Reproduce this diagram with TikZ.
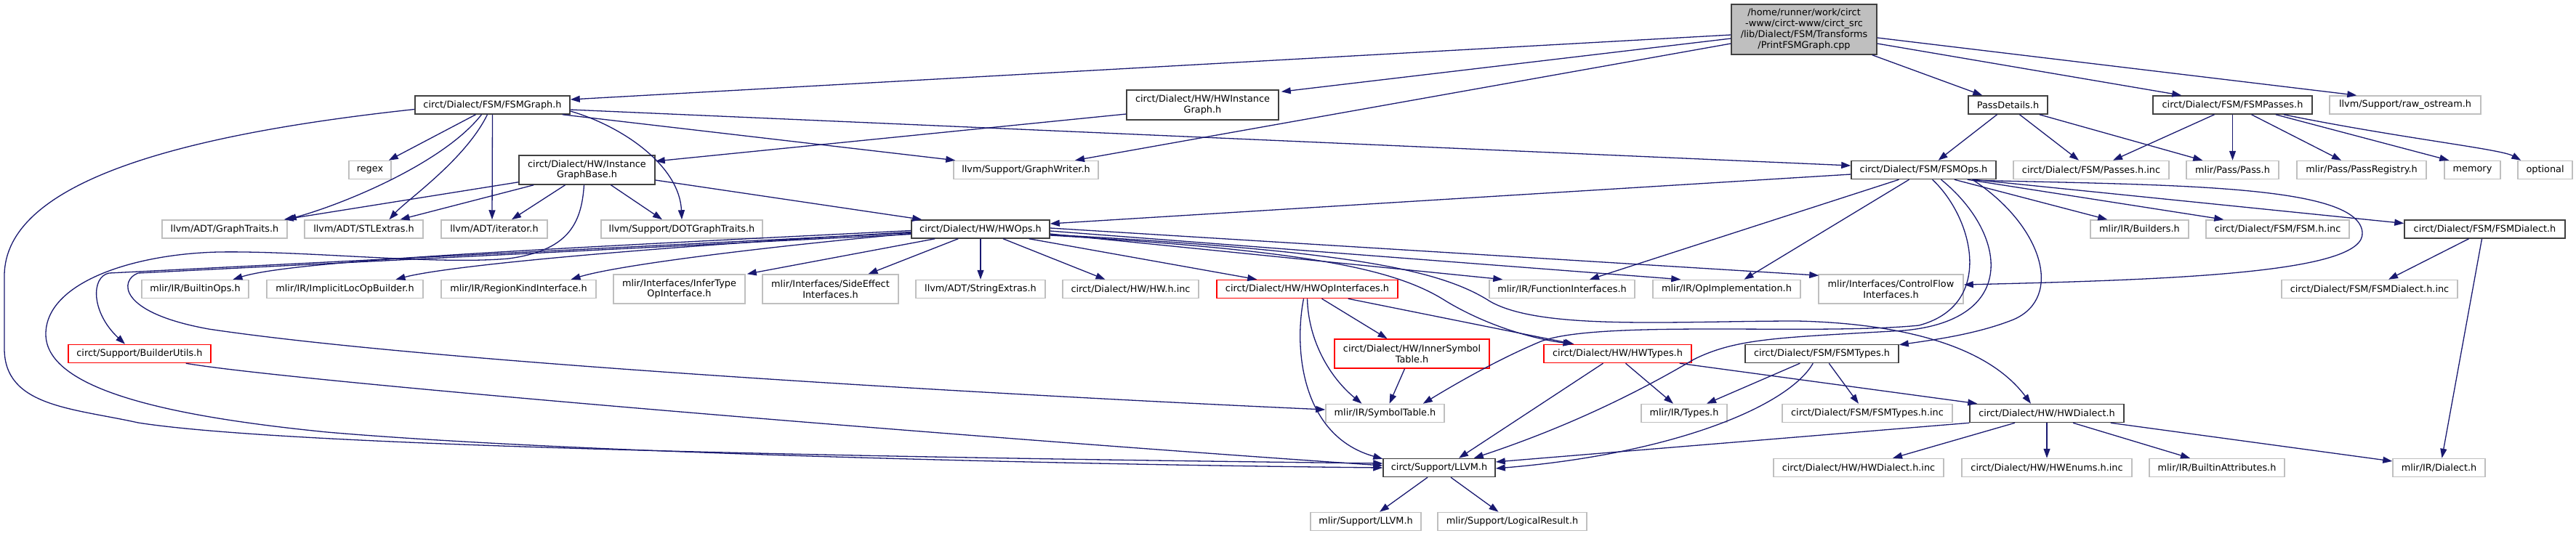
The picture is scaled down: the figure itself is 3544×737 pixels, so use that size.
\documentclass[tikz,border=0pt]{standalone}
\usepackage{fontspec}
\setmainfont{DejaVu Sans}
\usetikzlibrary{arrows.meta,calc}
\definecolor{edgec}{HTML}{191970}
\definecolor{docb}{HTML}{404040}
\definecolor{extb}{HTML}{BFBFBF}
\definecolor{rootf}{HTML}{BFBFBF}
\tikzset{
  box/.style={rectangle, inner sep=0pt, line width=1.5pt, fill=white, align=center,
    font=\fontsize{12.85}{14.8}\selectfont},
  doc/.style={box, draw=docb},
  ext/.style={box, draw=extb},
  trunc/.style={box, draw=red},
  rootn/.style={box, draw=docb, fill=rootf},
  e/.style={draw=edgec, line width=1.3pt, -{Triangle[length=13pt,width=9pt]}},
}
\newcommand\mknode[6]{\node[#1,minimum width=#2pt,minimum height=#3pt] (#4) at (#5) {#6};}
\begin{document}
\begin{tikzpicture}[x=1pt,y=-1pt]
\useasboundingbox (0,0) rectangle (3544,737);
% row 0
\mknode{rootn}{200}{69}{root}{2482,40.5}{/home/runner/work/circt\\-www/circt-www/circt\_src\\/lib/Dialect/FSM/Transforms\\/PrintFSMGraph.cpp}
% row 1
\mknode{doc}{213}{25}{fsmgraph}{677.5,144.5}{circt/Dialect/FSM/FSMGraph.h}
\mknode{doc}{209}{41}{hwinstgraph}{1654.5,144.5}{circt/Dialect/HW/HWInstance\\Graph.h}
\mknode{doc}{109}{25}{passdetails}{2762.5,144.5}{PassDetails.h}
\mknode{doc}{219}{25}{fsmpasses}{3071.5,144.5}{circt/Dialect/FSM/FSMPasses.h}
\mknode{ext}{208}{25}{rawostream}{3309,144.5}{llvm/Support/raw\_ostream.h}
% row 2
\mknode{ext}{58}{25}{regex}{509,234}{regex}
\mknode{doc}{187}{40}{instgraphbase}{807.5,234}{circt/Dialect/HW/Instance\\GraphBase.h}
\mknode{ext}{199}{25}{graphwriter}{1411.5,234}{llvm/Support/GraphWriter.h}
\mknode{doc}{199}{25}{fsmops}{2646.5,234}{circt/Dialect/FSM/FSMOps.h}
\mknode{ext}{214}{25}{passesinc}{2877,234}{circt/Dialect/FSM/Passes.h.inc}
\mknode{ext}{127}{25}{passh}{3071.5,234}{mlir/Pass/Pass.h}
\mknode{ext}{178}{25}{passreg}{3249,234}{mlir/Pass/PassRegistry.h}
\mknode{ext}{77}{25}{memory}{3401.5,234}{memory}
\mknode{ext}{75}{25}{optional}{3501.5,234}{optional}
% row 3
\mknode{ext}{172}{25}{graphtraits}{309,315.5}{llvm/ADT/GraphTraits.h}
\mknode{ext}{163}{25}{stlextras}{500.5,315.5}{llvm/ADT/STLExtras.h}
\mknode{ext}{146}{25}{iterator}{680,315.5}{llvm/ADT/iterator.h}
\mknode{ext}{222}{25}{dotgraph}{938,315.5}{llvm/Support/DOTGraphTraits.h}
\mknode{doc}{190}{25}{hwops}{1349,315.5}{circt/Dialect/HW/HWOps.h}
\mknode{ext}{135}{25}{builders}{2943.5,315.5}{mlir/IR/Builders.h}
\mknode{ext}{197}{25}{fsminc}{3133.5,315.5}{circt/Dialect/FSM/FSM.h.inc}
\mknode{doc}{221}{25}{fsmdialect}{3418.5,315.5}{circt/Dialect/FSM/FSMDialect.h}
% row 4
\mknode{ext}{147}{25}{builtinops}{268.5,398}{mlir/IR/BuiltinOps.h}
\mknode{ext}{215}{25}{implicitloc}{474.5,398}{mlir/IR/ImplicitLocOpBuilder.h}
\mknode{ext}{213}{25}{regionkind}{713.5,398}{mlir/IR/RegionKindInterface.h}
\mknode{ext}{181}{40}{infertype}{934.5,398}{mlir/Interfaces/InferType\\OpInterface.h}
\mknode{ext}{187}{40}{sideeffect}{1142.5,398}{mlir/Interfaces/SideEffect\\Interfaces.h}
\mknode{ext}{178}{25}{stringextras}{1349,398}{llvm/ADT/StringExtras.h}
\mknode{ext}{187}{25}{hwinc}{1555.5,398}{circt/Dialect/HW/HW.h.inc}
\mknode{trunc}{249}{25}{hwopif}{1798.5,398}{circt/Dialect/HW/HWOpInterfaces.h}
\mknode{ext}{200}{25}{funcif}{2149,398}{mlir/IR/FunctionInterfaces.h}
\mknode{ext}{203}{25}{opimpl}{2375.5,398}{mlir/IR/OpImplementation.h}
\mknode{ext}{199}{40}{controlflow}{2601.5,398}{mlir/Interfaces/ControlFlow\\Interfaces.h}
\mknode{ext}{242}{25}{fsmdialectinc}{3260,398}{circt/Dialect/FSM/FSMDialect.h.inc}
% row 5
\mknode{trunc}{196}{25}{builderutils}{192,487}{circt/Support/BuilderUtils.h}
\mknode{trunc}{213}{40}{innersym}{1942.5,487}{circt/Dialect/HW/InnerSymbol\\Table.h}
\mknode{trunc}{203}{25}{hwtypes}{2225.5,487}{circt/Dialect/HW/HWTypes.h}
\mknode{doc}{211}{25}{fsmtypes}{2506.5,487}{circt/Dialect/FSM/FSMTypes.h}
% row 6
\mknode{ext}{163}{25}{symboltable}{1905.5,569}{mlir/IR/SymbolTable.h}
\mknode{ext}{118}{25}{types}{2317,569}{mlir/IR/Types.h}
\mknode{ext}{234}{25}{fsmtypesinc}{2569,569}{circt/Dialect/FSM/FSMTypes.h.inc}
\mknode{doc}{212}{25}{hwdialect}{2816,569}{circt/Dialect/HW/HWDialect.h}
% row 7
\mknode{doc}{154}{25}{llvm}{1980,644}{circt/Support/LLVM.h}
\mknode{ext}{234}{25}{hwdialectinc}{2557,644}{circt/Dialect/HW/HWDialect.h.inc}
\mknode{ext}{234}{25}{hwenums}{2816,644}{circt/Dialect/HW/HWEnums.h.inc}
\mknode{ext}{186}{25}{builtinattr}{3050,644}{mlir/IR/BuiltinAttributes.h}
\mknode{ext}{127}{25}{dialect}{3355.5,644}{mlir/IR/Dialect.h}
% row 8
\mknode{ext}{152}{25}{mlirllvm}{1879,718}{mlir/Support/LLVM.h}
\mknode{ext}{205}{25}{logicalresult}{2080.5,718}{mlir/Support/LogicalResult.h}

% ---- edges ----
% root
\draw[e] ($(root.west)+(0,7.5)$) -- ($(fsmgraph.east)+(0,-7.5)$);
\draw[e] ($(root.west)+(0,12.5)$) -- ($(hwinstgraph.north east)+(3,3)$);
\draw[e] ($(root.west)+(0,19.5)$) -- ($(graphwriter.north)+(67.5,0)$);
\draw[e] ($(root.south east)+(-7,0)$) -- ($(passdetails.north west)+(20,0)$);
\draw[e] ($(root.east)+(0,19.5)$) -- ($(fsmpasses.north west)+(40,0)$);
\draw[e] ($(root.east)+(0,11.5)$) -- ($(rawostream.north west)+(38,0)$);
% fsmgraph
\draw[e] ($(fsmgraph.south)+(-23,0)$) -- ($(regex.north east)+(-4,0)$);
\draw[e] ($(fsmgraph.south)+(-15,0)$) .. controls (610,225) and (470,282) .. ($(graphtraits.north east)+(-1,0)$);
\draw[e] ($(fsmgraph.south)+(-7,0)$) .. controls (640,220) and (560,275) .. ($(stlextras.north)+(35,0)$);
\draw[e] (fsmgraph.south) -- ($(iterator.north)+(-3,0)$);
\draw[e] ($(fsmgraph.east)+(0,8.5)$) .. controls (860,175) and (935,230) .. (dotgraph.north);
\draw[e] ($(fsmgraph.south east)+(-11,0)$) -- ($(graphwriter.north west)+(3,0)$);
\draw[e] ($(fsmgraph.east)+(0,6.5)$) -- ($(fsmops.west)+(0,-6)$);
\draw[e] ($(fsmgraph.west)+(0,6)$) .. controls (250,185) and (6,250) .. (6,380) -- (6,480)
  .. controls (6,560) and (100,562) .. (190,582) .. controls (400,615) and (1200,630) .. ($(llvm.west)+(0,-6)$);
% instgraphbase
\draw[e] ($(instgraphbase.south west)+(0,-4)$) -- ($(graphtraits.north east)+(-5,0)$);
\draw[e] ($(instgraphbase.south west)+(21,0)$) -- ($(stlextras.north)+(50,0)$);
\draw[e] ($(instgraphbase.south)+(-30,0)$) -- ($(iterator.north)+(24,0)$);
\draw[e] ($(instgraphbase.south)+(33,0)$) -- ($(dotgraph.north)+(-27,0)$);
\draw[e] ($(instgraphbase.east)+(0,14)$) -- ($(hwops.north west)+(15,0)$);
\draw[e] ($(instgraphbase.south)+(-4,0)$) .. controls (800,310) and (780,345) .. (700,356)
  .. controls (600,365) and (420,345) .. (300,347) .. controls (180,350) and (63,390) .. (63,460)
  .. controls (63,540) and (250,575) .. (450,595) .. controls (800,625) and (1500,640) .. ($(llvm.west)+(0,0)$);
% hwinstgraph
\draw[e] ($(hwinstgraph.west)+(0,12.5)$) -- ($(instgraphbase.east)+(0,-12)$);
% passdetails
\draw[e] ($(passdetails.south)+(-15,0)$) -- ($(fsmops.north)+(20,0)$);
\draw[e] ($(passdetails.south)+(16,0)$) -- ($(passesinc.north)+(-17,0)$);
\draw[e] ($(passdetails.south east)+(-12,0)$) -- ($(passh.north west)+(23,0)$);
% fsmpasses
\draw[e] ($(fsmpasses.south)+(-25,0)$) -- ($(passesinc.north)+(30,0)$);
\draw[e] (fsmpasses.south) -- (passh.north);
\draw[e] ($(fsmpasses.south)+(26,0)$) -- ($(passreg.north)+(-28,0)$);
\draw[e] ($(fsmpasses.south east)+(-51,0)$) -- ($(memory.north west)+(7,0)$);
\draw[e] ($(fsmpasses.south east)+(-40,0)$) .. controls (3300,190) and (3440,205) .. ($(optional.north west)+(5,0)$);
% fsmops
\draw[e] ($(fsmops.west)+(0,6)$) -- ($(hwops.east)+(0,-7.5)$);
\draw[e] ($(fsmops.south)+(-34,0)$) -- ($(funcif.north)+(38,0)$);
\draw[e] ($(fsmops.south)+(-20,0)$) -- ($(opimpl.north)+(24,0)$);
\draw[e] ($(fsmops.south)+(12,0)$) .. controls (2715,300) and (2745,420) .. (2640,448)
  .. controls (2500,462) and (2200,440) .. (2120,470) .. controls (2060,495) and (2000,530) .. ($(symboltable.north east)+(-30,0)$);
\draw[e] ($(fsmops.south)+(24,0)$) .. controls (2760,320) and (2780,440) .. (2620,455)
  .. controls (2450,465) and (2390,465) .. (2330,495) .. controls (2220,560) and (2120,600) .. ($(llvm.north east)+(-30,0)$);
\draw[e] ($(fsmops.south)+(67,0)$) .. controls (2810,310) and (2840,410) .. (2770,440)
  .. controls (2720,460) and (2660,468) .. ($(fsmtypes.north east)+(0,1)$);
\draw[e] ($(fsmops.south east)+(-58,0)$) -- ($(builders.north west)+(24,0)$);
\draw[e] ($(fsmops.south east)+(-40,0)$) -- ($(fsminc.north west)+(25,0)$);
\draw[e] ($(fsmops.south east)+(-32,0)$) -- ($(fsmdialect.west)+(0,-8)$);
\draw[e] ($(fsmops.south east)+(-30,1)$) .. controls (3000,255) and (3245,255) .. (3250,320)
  .. controls (3255,375) and (3000,385) .. ($(controlflow.east)+(0,-6)$);
% hwops
\draw[e] ($(hwops.west)+(0,2)$) .. controls (700,345) and (400,360) .. ($(builtinops.north)+(52,0)$);
\draw[e] ($(hwops.west)+(0,4)$) .. controls (900,340) and (620,365) .. ($(implicitloc.north)+(70,0)$);
\draw[e] ($(hwops.west)+(0,6)$) .. controls (1050,340) and (850,365) .. ($(regionkind.north)+(72,0)$);
\draw[e] ($(hwops.south west)+(33,0)$) -- ($(infertype.north east)+(2,0)$);
\draw[e] ($(hwops.south west)+(65,0)$) -- ($(sideeffect.north)+(52,0)$);
\draw[e] (hwops.south) -- (stringextras.north);
\draw[e] ($(hwops.south)+(31,0)$) -- ($(hwinc.north)+(-35,0)$);
\draw[e] ($(hwops.south east)+(-29,0)$) -- ($(hwopif.north west)+(56,0)$);
\draw[e] ($(hwops.east)+(0,6.5)$) -- ($(funcif.north west)+(19,0)$);
\draw[e] ($(hwops.east)+(0,2.5)$) -- ($(opimpl.north west)+(39,0)$);
\draw[e] ($(hwops.east)+(0,-1.5)$) -- ($(controlflow.north west)+(1,2)$);
\draw[e] ($(hwops.east)+(0,8.5)$) .. controls (1800,345) and (1920,370) .. (1990,415)
  .. controls (2040,445) and (2100,465) .. ($(hwtypes.north)+(-62,0)$);
\draw[e] ($(hwops.east)+(0,7.5)$) .. controls (1850,345) and (1980,370) .. (2050,415)
  .. controls (2120,455) and (2300,442) .. (2473,442) .. controls (2600,445) and (2730,470) .. ($(hwdialect.north)+(-22,0)$);
\draw[e] ($(hwops.west)+(0,5)$) -- (150,376) .. controls (125,381) and (125,430) .. ($(builderutils.north)+(-20,0)$);
\draw[e] ($(hwops.west)+(0,7)$) -- (190,376) .. controls (165,385) and (160,430) .. (287,453)
  .. controls (600,500) and (1400,545) .. ($(symboltable.west)+(0,-5)$);
% builderutils
\draw[e] ($(builderutils.south east)+(-35,0)$) .. controls (400,525) and (1300,600) .. ($(llvm.west)+(0,-3)$);
% hwopif
\draw[e] ($(hwopif.south)+(20,0)$) -- ($(innersym.north)+(-34,0)$);
\draw[e] (hwopif.south) .. controls (1800,470) and (1830,520) .. ($(symboltable.north)+(-32,0)$);
\draw[e] ($(hwopif.south)+(-5,0)$) .. controls (1780,480) and (1790,600) .. ($(llvm.north west)+(0,1)$);
\draw[e] ($(hwopif.south east)+(-69,0)$) -- ($(hwtypes.north)+(-60,0)$);
% innersym
\draw[e] ($(innersym.south)+(-10,0)$) -- ($(symboltable.north)+(6,0)$);
% hwtypes
\draw[e] ($(hwtypes.south)+(-20,0)$) -- ($(llvm.north)+(27,0)$);
\draw[e] ($(hwtypes.south)+(11,0)$) -- ($(types.north)+(-15,0)$);
\draw[e] ($(hwtypes.south east)+(-17,0)$) -- ($(hwdialect.north west)+(11,0)$);
% fsmtypes
\draw[e] ($(fsmtypes.south west)+(76,0)$) -- ($(types.north)+(31,0)$);
\draw[e] ($(fsmtypes.south west)+(94,0)$) .. controls (2460,560) and (2300,625) .. ($(llvm.east)+(0,1)$);
\draw[e] ($(fsmtypes.south west)+(116,0)$) -- ($(fsmtypesinc.north)+(-12,0)$);
% hwdialect
\draw[e] (hwdialect.south west) -- ($(llvm.east)+(0,-8)$);
\draw[e] ($(hwdialect.south)+(-44,0)$) -- ($(hwdialectinc.north)+(47,0)$);
\draw[e] (hwdialect.south) -- (hwenums.north);
\draw[e] ($(hwdialect.south)+(36,0)$) -- ($(builtinattr.north)+(-37,0)$);
\draw[e] ($(hwdialect.south east)+(-19,0)$) -- ($(dialect.west)+(0,-9)$);
% fsmdialect
\draw[e] ($(fsmdialect.south)+(-22,0)$) -- ($(fsmdialectinc.north)+(26,0)$);
\draw[e] ($(fsmdialect.south)+(-4,0)$) -- ($(dialect.north)+(4,0)$);
% llvm
\draw[e] ($(llvm.south)+(-16,0)$) -- ($(mlirllvm.north)+(19,0)$);
\draw[e] ($(llvm.south)+(16,0)$) -- ($(logicalresult.north)+(-19,0)$);
\end{tikzpicture}
\end{document}
